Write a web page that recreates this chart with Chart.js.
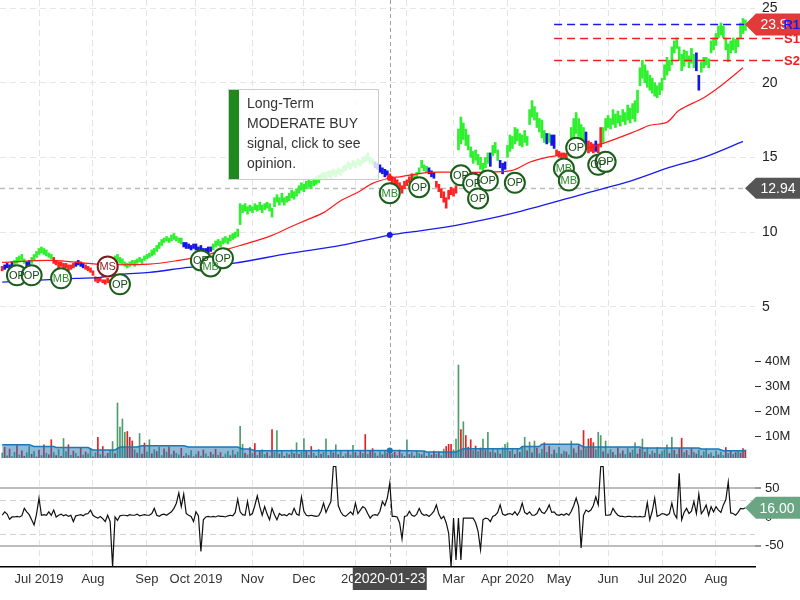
<!DOCTYPE html>
<html><head><meta charset="utf-8">
<script src="https://cdn.jsdelivr.net/npm/chart.js@4.4.1/dist/chart.umd.min.js"></script>
<style>html,body{margin:0;padding:0;background:#fff;overflow:hidden}#wrap{width:800px;height:600px;position:relative}</style>
</head><body><div id="wrap"><canvas id="c" width="800" height="600"></canvas></div>
<script>
// ---------- DATA ----------
const lows = [
7.4,7.5,7.6,7.5,7.7,7.8,7.9,8.0,8.1,7.9, 7.7,7.8,7.9,8.1,8.3,8.5,8.6,8.5,8.4,8.3,
8.2,7.9,7.8,7.6,7.7,7.5,7.6,7.4,7.5,7.6, 7.7,7.8,7.7,7.6,7.5,7.4,7.3,7.1,6.7,6.6,
6.7,6.6,6.5,6.6,6.5,7.2,7.8,8.0,7.9,7.8, 7.7,7.6,7.7,7.8,7.7,7.9,8.0,7.9,8.1,8.2,
8.3,8.4,8.5,8.7,8.9,9.1,9.3,9.4,9.3,9.4, 9.5,9.4,9.3,9.2,9.0,8.9,8.9,8.8,8.9,8.8,
8.7,8.8,8.6,8.5,8.6,8.7,8.8,9.0,9.1,9.0, 9.2,9.3,9.2,9.4,9.5,9.6,9.7,10.5,11.3,11.4,
11.2,11.4,11.3,11.5,11.4,11.5,11.3,11.5,11.6,11.4, 11.0,11.7,12.0,11.8,12.0,11.8,12.0,12.1,12.3,12.2,
12.4,12.6,12.8,12.7,12.9,13.0,12.9,13.1,13.2,13.3, 13.5,13.6,13.5,13.7,13.6,13.8,13.7,13.9,13.8,14.0,
14.1,14.3,14.2,14.4,14.3,14.5,14.4,14.6,14.7,14.8, 14.6,14.5,14.3,14.2,14.0,13.9,13.7,13.8,13.5,13.3,
13.2,13.0,12.8,12.6,12.9,13.1,13.3,13.5,13.4,13.6, 13.9,14.3,14.1,14.0,13.9,13.7,13.6,13.0,12.7,12.3,
12.0,11.6,12.2,12.5,12.4,12.6,15.5,15.9,16.2,15.8, 15.5,15.0,14.6,14.8,14.5,14.2,13.9,14.3,14.6,14.4,
15.1,15.3,14.8,14.3,13.9,14.2,15.0,15.4,15.6,15.9, 16.1,15.8,15.7,16.0,15.8,17.2,17.7,17.5,17.0,16.7,
16.3,16.0,15.9,16.0,15.8,15.6,15.1,15.0,14.9,15.0, 14.9,15.1,15.8,16.3,16.6,16.4,16.2,16.1,15.6,15.3,
15.4,15.3,15.4,15.3,15.7,16.0,16.8,17.0,16.9,17.2, 17.0,17.3,17.1,17.4,17.2,17.5,17.3,17.6,17.4,18.0,
19.8,20.3,20.0,19.7,19.5,19.3,19.1,19.0,19.2,19.5, 20.2,20.5,20.8,21.2,22.0,22.3,21.5,20.8,21.1,21.4,
21.0,21.3,21.0,20.8,19.5,20.7,21.0,21.2,21.0,22.0, 22.2,22.5,23.0,23.2,23.0,22.2,21.4,22.0,22.2,22.0,
22.4,23.0,23.3,23.5];
const highs = [
7.7,7.8,7.9,7.8,8.0,8.1,8.3,8.4,8.5,8.2, 8.0,8.1,8.3,8.5,8.7,8.9,9.0,8.9,8.8,8.6,
8.5,8.3,8.1,8.0,8.0,7.9,7.9,7.8,7.8,7.9, 8.0,8.1,8.0,7.9,7.8,7.7,7.6,7.4,7.0,6.9,
6.9,6.8,6.8,6.9,6.8,7.8,8.4,8.5,8.3,8.2, 8.0,7.9,8.0,8.1,8.1,8.2,8.3,8.2,8.4,8.5,
8.6,8.8,8.9,9.1,9.3,9.5,9.6,9.7,9.6,9.8, 9.9,9.7,9.6,9.6,9.3,9.3,9.2,9.1,9.2,9.2,
9.0,9.1,8.9,8.9,9.0,9.0,9.2,9.4,9.5,9.4, 9.6,9.7,9.6,9.8,9.9,10.0,10.2,11.9,11.8,11.9,
11.7,11.8,11.7,11.9,11.8,12.0,11.8,11.9,12.0,11.9, 11.6,12.3,12.5,12.3,12.6,12.3,12.4,12.6,12.8,12.7,
12.9,13.1,13.3,13.2,13.4,13.5,13.4,13.6,13.7,13.8, 13.9,14.0,14.0,14.1,14.1,14.2,14.1,14.3,14.2,14.4,
14.5,14.7,14.6,14.8,14.7,14.9,14.8,15.0,15.1,15.3, 15.0,14.9,14.7,14.6,14.5,14.3,14.2,14.1,13.9,13.7,
13.6,13.5,13.3,13.1,13.4,13.5,13.7,13.9,13.8,14.0, 14.3,14.8,14.5,14.4,14.3,14.1,14.0,13.4,13.2,12.9,
12.7,12.3,12.8,13.0,12.9,13.1,16.9,17.7,17.3,16.9, 16.5,15.7,15.4,15.5,15.2,15.0,14.6,15.0,15.3,15.3,
15.8,16.0,15.5,14.8,14.6,14.7,15.8,16.5,16.4,17.0, 16.9,16.6,16.5,16.8,16.4,18.2,18.8,18.4,18.0,17.6,
17.5,16.8,16.6,16.6,16.5,16.5,15.5,15.4,15.3,15.3, 15.2,15.6,17.0,17.6,18.0,17.6,17.2,17.0,16.7,16.1,
16.0,15.9,16.1,15.9,17.0,17.0,17.6,17.8,17.6,18.2, 17.9,18.1,17.8,18.2,18.0,18.5,18.3,18.6,18.8,19.5,
21.0,21.5,21.2,20.8,20.5,20.3,20.0,19.8,20.0,20.3, 21.2,21.7,21.5,22.4,22.8,23.0,22.4,21.9,22.2,22.1,
21.8,22.3,21.9,22.0,20.5,21.4,21.7,21.7,21.6,22.8, 23.0,23.3,23.8,24.0,23.8,23.0,22.6,22.8,23.0,22.9,
23.0,24.0,24.3,24.2];
// trend signal per bar: g = up, r = down, b = neutral (run lengths)
const trendRuns = [['r',1],['b',4],['g',5],['b',2],['g',9],['r',9],['b',4],['r',11],['g',29],['b',12],['g',66],['b',6],['r',10],['g',6],['b',3],['r',9],['g',13],['b',1],['g',3],['b',3],['g',16],['b',1],['g',1],['b',2],['r',5],['g',7],['b',1],['r',3],['b',1],['r',2],['g',38],['b',2],['g',19]];
const volumes = [
3.2,5.5,2.1,4.8,1.8,3.5,6.2,2.4,4.1,1.9,3.3,5.8,2.7,3.9,1.6,4.4,2.2,6.5,3.1,2.5,
8.5,3.4,2.2,4.6,1.9,9.0,3.8,6.5,2.3,4.0,3.1,1.8,5.2,2.4,3.6,2.9,4.7,1.7,3.3,9.5,
2.6,5.8,2.0,3.1,4.2,7.8,3.0,23.2,13.6,16.8,11.5,11.8,9.5,8.0,4.5,3.2,11.0,2.8,7.2,3.6,
8.5,2.9,4.6,3.8,5.5,2.2,4.9,3.6,5.6,2.5,4.0,3.1,2.4,5.1,1.9,3.0,2.2,4.2,1.7,2.6,
3.8,2.0,4.4,2.9,1.8,3.5,2.6,4.7,2.3,3.4,1.6,2.8,3.9,2.1,4.3,2.5,3.6,13.9,6.7,3.2,
2.4,5.4,3.0,7.0,2.2,3.8,4.5,2.6,3.4,2.0,12.6,3.5,12.2,2.8,4.1,1.9,3.2,2.5,4.4,3.0,
7.3,2.7,3.6,9.0,4.2,2.3,5.8,3.1,2.0,4.6,2.8,3.5,8.9,2.2,4.0,3.3,6.5,2.6,3.9,1.8,
2.9,4.3,2.4,6.3,3.4,2.1,4.0,3.0,10.6,2.7,4.1,4.95,3.2,2.0,3.7,2.5,4.2,3.1,4.0,2.8,
3.5,2.2,4.4,2.9,1.8,8.5,2.6,3.4,2.0,4.1,3.0,2.5,3.8,1.9,3.2,2.4,4.0,2.7,3.6,2.1,
4.8,5.8,6.7,6.7,4.5,8.8,38.4,12.6,15.7,10.2,5.5,8.5,4.2,6.0,3.8,5.2,8.8,4.4,11.5,3.6,
5.0,3.2,4.6,2.8,5.3,6.7,7.3,3.9,5.1,2.7,4.8,3.5,5.6,9.5,4.1,7.6,3.3,8.0,5.2,2.9,
4.7,7.3,3.4,5.9,2.6,4.4,3.1,5.5,2.8,4.0,3.6,2.4,8.0,4.9,3.2,6.1,4.3,12.2,5.0,8.8,
9.1,7.3,4.5,11.5,10.2,3.7,8.0,2.9,4.6,3.5,2.4,5.3,3.0,4.1,2.6,5.0,3.3,4.4,7.3,2.8,
4.9,8.8,3.6,5.2,2.5,4.0,3.1,5.4,2.7,3.8,4.6,6.5,3.0,9.5,4.3,2.6,5.0,9.1,3.4,4.2,
2.3,5.1,3.5,2.8,4.4,2.1,3.7,4.8,2.6,3.3,1.9,4.0,2.5,3.6,2.2,5.4,3.0,4.1,2.7,3.4,
4.0,3.2,5.0,4.4];
// u = up day, d = down day
const volDir = "ududuududduududdudud"+"dududuudududduduudud"+"ududuuduuuudddududdu"+"ududuudududuuddududu"+
"duduududud"+"duududuuud"+"udududuudu"+"duudududud"+"uduudududu"+"duudududud"+"uduudududu"+"ddudududdu"+
"dududududu"+"udududdudu"+"uddduuudud"+"ddudududud"+"ududuuudud"+"uduudududu"+"udududuudu"+"duudududud"+
"dduuududud"+"ududuuduud"+"dududududu"+"uudududdud"+"udududuudu"+"duduududud"+"uddd";
const osc = [
3,9,5,-4,0,0,1,0,2,15, 9,4,-5,-14,5,33,3,4,3,9, 3,12,0,3,5,2,4,1,3,-8, 2,3,4,2,5,6,12,3,0,-2,
1,-3,-8,3,-8,-87,0,-6,2,3, 3,2,4,3,3,5,2,3,4,3, 3,6,15,3,1,4,5,3,6,9, 15,24,42,18,40,6,3,1,-8,9,
2,-60,-5,0,1,0,1,0,2,1, 1,0,2,3,2,8,31,9,4,3, 27,3,6,20,37,18,3,18,5,-5, 15,4,-5,6,3,4,2,6,4,15,
5,3,35,10,3,2,3,2,1,2, 10,24,8,18,27,88,88,20,9,3, 1,5,9,4,24,6,12,18,15,6, -2,3,4,3,10,27,20,33,59,1,
1,0,-10,-38,1,2,10,3,1,5, 15,6,3,4,1,5,10,21,5,-3, 1,-10,-28,-87,-2,-75,-2,-75,-2,-2, -2,-2,-2,-10,-25,-57,-5,-2,-3,-8,
1,3,8,21,5,3,5,6,4,9, 3,10,24,8,5,9,3,3,6,15, 8,6,12,21,8,9,4,3,5,3, 6,3,10,20,33,18,-54,3,12,9,
12,20,35,21,88,88,3,3,4,15, 8,3,1,1,0,1,1,0,1,0, 1,0,1,25,-5,10,33,1,3,6, 5,3,6,24,5,-2,76,-5,8,15,
6,10,27,6,40,6,12,21,3,18, 9,18,12,8,21,30,61,7,6,3, 8,15,14,16];
// moving averages as [barIndex, value]
const maShort = [[0,7.97],[20,8.1],[40,7.84],[60,7.85],[72,8.1],[81,8.37],[90,8.77],[97,9.1],[104,9.44],[110,9.78],[117,10.3],[124,10.8],[131,11.3],[138,12.1],[145,12.66],[151,13.26],[158,13.62],[162,13.7],[174,14.0],[185,14.0],[195,14.0],[208,14.13],[215,14.67],[222,15.0],[227,15.14],[245,15.94],[259,16.8],[264,17.15],[271,17.35],[276,18.15],[286,19.0],[293,19.8],[302,21.0]];
const maLong = [[0,6.65],[30,6.9],[40,6.97],[48,7.17],[60,7.3],[76,7.63],[94,7.9],[117,8.57],[138,9.1],[158,9.8],[171,10.1],[185,10.45],[208,11.25],[235,12.46],[257,13.46],[272,14.33],[286,15.0],[302,16.07]];
const volAvg = [[0,6.5],[11,6.5],[13,5.8],[21,5.8],[22,5.4],[35,5.4],[37,4.4],[46,4.4],[48,5.6],[55,5.6],[57,6.1],[74,6.1],[76,5.6],[96,5.6],[98,4.8],[101,4.8],[103,4.1],[158,4.2],[172,4.0],[173,3.6],[185,3.6],[188,4.95],[211,4.95],[212,5.8],[219,5.8],[220,6.7],[235,6.7],[237,5.6],[260,5.6],[261,5.2],[284,5.2],[285,4.8],[292,4.8],[294,4.1],[303,4.1]];
const signalIdx   = [6,12,24,43,48,81,85,90,158,170,187,192,194,198,209,229,231,234,243,246];
const signalPrice = [7.1,7.1,6.9,7.7,6.5,8.1,7.7,8.25,12.6,13.0,13.8,13.25,12.25,13.45,13.3,14.25,13.45,15.65,14.5,14.7];
const signalLabel = ['OP','OP','MB','MS','OP','OP','MB','OP','MB','OP','OP','OP','OP','OP','OP','MB','MB','OP','OP','OP'];
const monthTickIdx = [15,37,59,79,102,123,144,165,184,206,227,247,269,291];
const monthTickLabels = ['Jul 2019','Aug','Sep','Oct 2019','Nov','Dec','2020','Feb','Mar','Apr 2020','May','Jun','Jul 2020','Aug'];
const priceTicks = [5,10,15,20,25];
const volTicks = [10,20,30,40];
const oscTicks = [-50,0,50];
const oscBands = [30,-30];
const levelNames = ['R1','S1','S2'];
const levelValues = [23.9,23.0,21.5];
const levelStartIdx = 225;
const lastPrice = 23.9, lastOsc = 16.00;
const crossIdx = 158, crossDate = '2020-01-23', crossPrice = 12.94;
const tipText = ['Long-Term','MODERATE BUY','signal, click to see','opinion.'];

// ---------- CHART ----------
const FONT = "'Liberation Sans', Arial, sans-serif";
Chart.defaults.font.family = FONT;
Chart.defaults.color = '#333';
const trend = trendRuns.flatMap(([c,n]) => Array(n).fill(c));
const trendColor = {g:'#2ef02e', r:'#ff2222', b:'#1414e6'};
const priceData = lows.map((l,i) => ({x:i, y:[l, highs[i]]}));
const volData = volumes.map((v,i) => ({x:i, y:v}));
const oscData = osc.map((v,i) => ({x:i, y:v}));
const pts = arr => arr.map(([x,y]) => ({x, y}));
const signals = signalIdx.map((x,k) => ({x, y:signalPrice[k]}));
const crossDot = c => (c.raw && c.raw.x === crossIdx) ? 3 : 0;

function fitY(w){ return s => { s.width = w; s.paddingTop = 0; s.paddingBottom = 0; }; }

const overlay = {
  id:'overlay',
  beforeDatasetsDraw(chart){
    const {ctx, chartArea:a, scales:{x, y, yOsc}} = chart;
    ctx.save();
    ctx.strokeStyle = '#d0d0d0'; ctx.lineWidth = 1; ctx.setLineDash([6,4]);
    oscBands.forEach(v => { const py = Math.round(yOsc.getPixelForValue(v)) + 0.5;
      ctx.beginPath(); ctx.moveTo(a.left, py); ctx.lineTo(a.right, py); ctx.stroke(); });
    ctx.strokeStyle = '#bdbdbd'; ctx.lineWidth = 1.5; ctx.setLineDash([5,4]);
    const cy = Math.round(y.getPixelForValue(crossPrice)) + 0.5;
    ctx.beginPath(); ctx.moveTo(a.left, cy); ctx.lineTo(a.right - 10, cy); ctx.stroke();
    ctx.strokeStyle = '#a0a0a0'; ctx.lineWidth = 1; ctx.setLineDash([4,3]);
    const cx = Math.round(x.getPixelForValue(crossIdx)) + 0.5;
    ctx.beginPath(); ctx.moveTo(cx, a.top); ctx.lineTo(cx, a.bottom); ctx.stroke();
    ctx.restore();
  },
  afterDatasetsDraw(chart){
    const {ctx, chartArea:a, scales:{x, y, yOsc}} = chart;
    const W = chart.width;
    ctx.save();
    // signal texts
    const meta = chart.getDatasetMeta(6);
    ctx.textAlign = 'center'; ctx.textBaseline = 'middle';
    ctx.font = '11px ' + FONT;
    meta.data.forEach((el,k) => {
      const lab = signalLabel[k];
      ctx.fillStyle = lab === 'MS' ? '#8b1a1a' : (lab === 'MB' ? '#2e8b2e' : '#174a17');
      ctx.fillText(lab, el.x, el.y + 0.5);
    });
    // level lines
    const lx0 = x.getPixelForValue(levelStartIdx);
    levelNames.forEach((n,k) => {
      const py = Math.round(y.getPixelForValue(levelValues[k])) + 0.5;
      const col = n[0] === 'R' ? '#1a1aee' : '#ee2020';
      ctx.strokeStyle = col; ctx.lineWidth = 1.5; ctx.setLineDash([8,5]);
      ctx.beginPath(); ctx.moveTo(lx0, py); ctx.lineTo(783, py); ctx.stroke();
    });
    ctx.setLineDash([]);
    // arrow labels
    function arrow(yc, fill, text, h, tx){
      const tip = a.right - 10;
      ctx.fillStyle = fill;
      ctx.beginPath(); ctx.moveTo(tip, yc); ctx.lineTo(tip + 11, yc - h/2); ctx.lineTo(W, yc - h/2);
      ctx.lineTo(W, yc + h/2); ctx.lineTo(tip + 11, yc + h/2); ctx.closePath(); ctx.fill();
      ctx.fillStyle = '#fff'; ctx.font = '14px ' + FONT; ctx.textAlign = 'center'; ctx.textBaseline = 'middle';
      ctx.fillText(text, tip + tx, yc + 1);
    }
    arrow(y.getPixelForValue(crossPrice), '#555555', crossPrice.toFixed(2), 21, 33);
    arrow(y.getPixelForValue(lastPrice), '#e23a3a', String(lastPrice), 22, 29);
    arrow(yOsc.getPixelForValue(lastOsc), '#6aa683', lastOsc.toFixed(2), 22, 32);
    // level names
    ctx.font = 'bold 13px ' + FONT; ctx.textAlign = 'right'; ctx.textBaseline = 'middle';
    levelNames.forEach((n,k) => {
      ctx.fillStyle = n[0] === 'R' ? '#1a1aee' : '#ee2020';
      ctx.fillText(n, W, y.getPixelForValue(levelValues[k]) + 1);
    });
    // date label
    const cx = x.getPixelForValue(crossIdx);
    ctx.fillStyle = '#4a4a4a'; ctx.fillRect(cx - 37, a.bottom, 74, 23);
    ctx.fillStyle = '#fff'; ctx.font = '14px ' + FONT; ctx.textAlign = 'center';
    ctx.fillText(crossDate, cx, a.bottom + 12);
    // tooltip box
    ctx.fillStyle = 'rgba(255,255,255,0.82)'; ctx.fillRect(228, 89, 150, 91);
    ctx.strokeStyle = '#cccccc'; ctx.lineWidth = 1; ctx.strokeRect(228.5, 89.5, 150, 90);
    ctx.fillStyle = '#1e8a1e'; ctx.fillRect(229, 90, 10, 89);
    ctx.fillStyle = '#333'; ctx.font = '14px ' + FONT; ctx.textAlign = 'left';
    tipText.forEach((t,k) => ctx.fillText(t, 247, 104 + k*20));
    ctx.restore();
  }
};

new Chart(document.getElementById('c'), {
  type:'bar',
  data:{datasets:[
    {type:'bar', data:priceData, yAxisID:'y', grouped:false, barThickness:2,
     backgroundColor:c => trendColor[trend[c.dataIndex]], order:6},
    {type:'line', data:pts(maShort), yAxisID:'y', borderColor:'#ff1a1a', borderWidth:1.2,
     pointRadius:crossDot, pointBackgroundColor:'#ff1a1a', pointBorderWidth:0, tension:0.3, order:4},
    {type:'line', data:pts(maLong), yAxisID:'y', borderColor:'#1a1aee', borderWidth:1.3,
     pointRadius:crossDot, pointBackgroundColor:'#1a1aee', pointBorderWidth:0, tension:0.3, order:4},
    {type:'bar', data:volData, yAxisID:'yVol', grouped:false, barThickness:1,
     backgroundColor:c => volDir[c.dataIndex] === 'u' ? '#4f9c6e' : '#e32020', order:6},
    {type:'line', data:pts(volAvg), yAxisID:'yVol', fill:'origin', backgroundColor:'rgba(31,119,180,0.5)',
     borderColor:'#1f77b4', borderWidth:1.5, pointRadius:crossDot, pointBackgroundColor:'#1f77b4', pointBorderWidth:0, order:3},
    {type:'line', data:oscData, yAxisID:'yOsc', borderColor:'#111', borderWidth:1.2, pointRadius:0, order:4},
    {type:'scatter', data:signals, yAxisID:'y', pointRadius:10, pointHoverRadius:10,
     pointBackgroundColor:'#ffffff', pointBorderWidth:2,
     pointBorderColor:c => signalLabel[c.dataIndex] === 'MS' ? '#7d1c1c' : '#1b5e1b', order:1}
  ]},
  options:{
    responsive:false, animation:false, events:[],
    layout:{padding:0, autoPadding:false},
    plugins:{legend:{display:false}, tooltip:{enabled:false}},
    scales:{
      x:{type:'linear', min:-0.9, max:306.9, offset:false, position:'bottom',
        grid:{color:'#e3e3e3', lineWidth:1, drawTicks:false, offset:false},
        border:{display:true, color:'#000', width:1.5, dash:[6,4]},
        ticks:{autoSkip:false, maxRotation:0, padding:5, font:{size:13}, color:'#333',
          callback:(v,i) => monthTickLabels[i]},
        afterBuildTicks:s => { s.ticks = monthTickIdx.map(v => ({value:v})); },
        afterFit:s => { s.height = 33; s.paddingLeft = 0; s.paddingRight = 0; }},
      y:{type:'linear', position:'right', stack:'panels', stackWeight:350, min:2.1, max:25.54,
        grid:{color:'#e6e6e6', drawTicks:false}, border:{display:false, dash:[6,4]},
        ticks:{padding:7, font:{size:14}, color:'#222'},
        afterBuildTicks:s => { s.ticks = priceTicks.map(v => ({value:v})); },
        afterFit:fitY(45)},
      yVol:{type:'linear', position:'right', stack:'panels', stackWeight:108, min:1.2, max:44.4,
        grid:{drawOnChartArea:false, drawTicks:true, tickLength:6, tickColor:'#333'}, border:{display:false},
        ticks:{padding:4, font:{size:13}, color:'#222', callback:v => v + 'M'},
        afterBuildTicks:s => { s.ticks = volTicks.map(v => ({value:v})); },
        afterFit:fitY(45)},
      yOsc:{type:'linear', position:'right', stack:'panels', stackWeight:109, min:-87.2, max:102.8,
        grid:{color:c => (c.tick && c.tick.value !== 0) ? '#bdbdbd' : 'rgba(0,0,0,0)', lineWidth:2,
          drawTicks:true, tickLength:6, tickColor:'#333', tickWidth:1}, border:{display:false},
        ticks:{padding:4, font:{size:13}, color:'#222'},
        afterBuildTicks:s => { s.ticks = oscTicks.map(v => ({value:v})); },
        afterFit:fitY(45)}
    }
  },
  plugins:[overlay]
});
</script></body></html>
